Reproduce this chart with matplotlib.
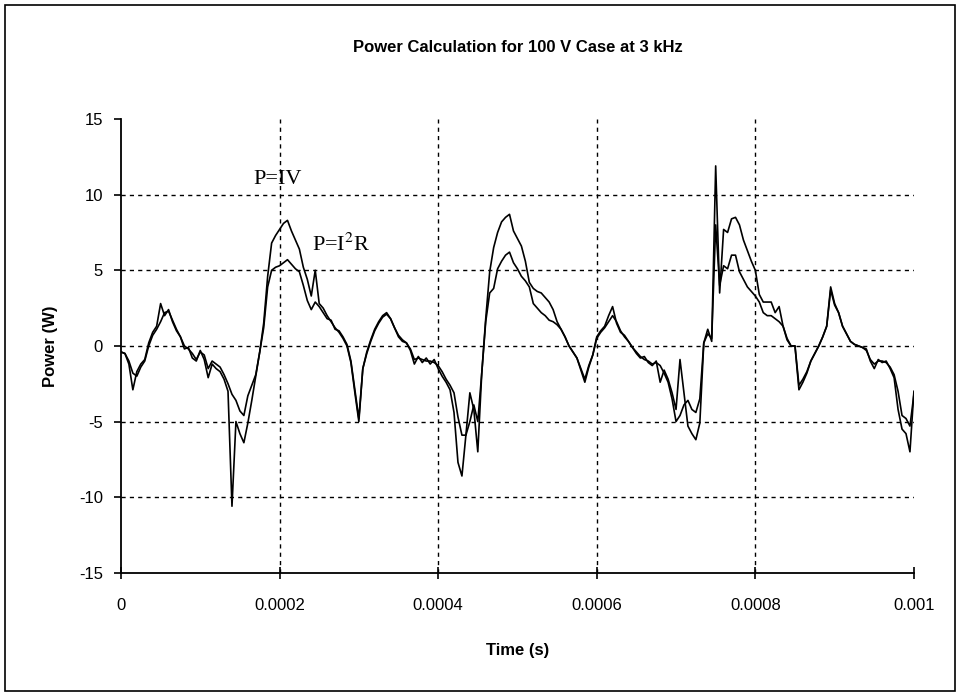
import numpy as np
import matplotlib
matplotlib.use("Agg")
import matplotlib.pyplot as plt
from matplotlib.patches import Rectangle

plt.rcParams['font.family'] = ['Liberation Sans', 'DejaVu Sans']
plt.rcParams['axes.unicode_minus'] = False
plt.rcParams['mathtext.fontset'] = 'stix'

# sample times, in units of 1e-5 s (0 .. 100, every 0.5)
t_units = np.arange(0, 100.5, 0.5)

# P = I*V  (W)
p_iv = [
    -0.4, -0.5, -1.2, -2.9, -1.7, -1.2, -0.9, 0.2, 0.9, 1.3, 2.8, 2.0,
    2.4, 1.6, 1.0, 0.6, -0.2, -0.1, -0.8, -1.0, -0.3, -0.9, -2.1, -1.2,
    -1.5, -1.7, -2.2, -3.0, -10.6, -5.0, -5.8, -6.4, -5.1, -3.6, -2.0, -0.4,
    1.5, 4.6, 6.8, 7.3, 7.7, 8.1, 8.3, 7.6, 7.0, 6.4, 5.2, 4.4,
    3.3, 5.0, 2.8, 2.5, 2.0, 1.6, 1.2, 0.9, 0.5, 0.0, -1.1, -3.1,
    -5.0, -1.5, -0.4, 0.4, 1.1, 1.6, 2.0, 2.2, 1.8, 1.2, 0.6, 0.3,
    0.2, -0.3, -1.2, -0.7, -1.1, -0.8, -1.2, -0.9, -1.5, -2.0, -2.4, -2.9,
    -4.4, -7.7, -8.6, -5.9, -3.1, -4.2, -7.0, -1.8, 1.8, 4.9, 6.5, 7.5,
    8.2, 8.5, 8.7, 7.6, 7.1, 6.6, 5.6, 4.2, 3.8, 3.6, 3.5, 3.2,
    2.9, 2.4, 1.6, 1.1, 0.6, 0.0, -0.4, -0.8, -1.6, -2.4, -1.4, -0.6,
    0.6, 1.0, 1.3, 2.0, 2.6, 1.5, 0.9, 0.7, 0.3, -0.1, -0.5, -0.8,
    -0.7, -1.1, -1.3, -1.0, -2.4, -1.6, -2.2, -3.1, -4.2, -0.9, -3.1, -5.3,
    -5.8, -6.2, -5.1, 0.2, 1.1, 0.3, 11.9, 3.5, 7.7, 7.5, 8.4, 8.5,
    8.0, 7.0, 6.3, 5.6, 5.0, 3.4, 2.9, 2.9, 2.9, 2.2, 2.6, 1.3,
    0.5, 0.0, 0.0, -2.9, -2.4, -1.8, -1.0, -0.5, 0.0, 0.6, 1.3, 3.9,
    2.8, 2.2, 1.3, 0.8, 0.3, 0.1, 0.0, -0.1, -0.2, -1.0, -1.5, -0.9,
    -1.1, -1.0, -1.5, -2.1, -4.2, -5.5, -5.8, -7.0, -3.0,
]

# P = I^2 * R  (W)
p_i2r = [
    -0.4, -0.5, -1.0, -1.8, -2.0, -1.4, -1.0, 0.0, 0.7, 1.1, 1.6, 2.2,
    2.3, 1.7, 1.1, 0.6, 0.0, -0.2, -0.5, -0.9, -0.4, -0.6, -1.5, -1.0,
    -1.2, -1.4, -1.9, -2.5, -3.2, -3.6, -4.3, -4.6, -3.3, -2.6, -1.9, -0.4,
    1.2, 3.9, 5.0, 5.2, 5.3, 5.5, 5.7, 5.4, 5.1, 4.9, 4.0, 3.0,
    2.4, 2.9, 2.6, 2.2, 1.8, 1.7, 1.1, 1.0, 0.6, 0.1, -1.0, -2.9,
    -4.8, -1.5, -0.5, 0.3, 1.0, 1.5, 1.9, 2.1, 1.8, 1.2, 0.7, 0.4,
    0.2, -0.2, -0.9, -0.8, -0.9, -1.0, -1.0, -1.1, -1.3, -1.7, -2.2, -2.6,
    -3.1, -4.7, -5.9, -5.9, -5.0, -3.9, -5.0, -1.8, 1.6, 3.5, 3.8, 5.1,
    5.6, 6.0, 6.2, 5.5, 5.1, 4.6, 4.3, 3.9, 2.8, 2.5, 2.2, 2.0,
    1.7, 1.6, 1.4, 1.1, 0.6, 0.0, -0.4, -0.8, -1.5, -2.2, -1.3, -0.6,
    0.5, 0.9, 1.2, 1.6, 2.0, 1.6, 1.0, 0.6, 0.3, -0.1, -0.4, -0.7,
    -0.9, -1.0, -1.2, -1.1, -1.3, -1.8, -2.4, -3.5, -5.0, -4.6, -3.9, -3.6,
    -4.2, -4.4, -3.5, 0.2, 0.8, 0.5, 8.0, 4.0, 5.3, 5.1, 6.0, 6.0,
    4.9, 4.4, 3.9, 3.6, 3.3, 2.9, 2.2, 2.0, 2.0, 1.8, 1.6, 1.3,
    0.4, 0.0, 0.0, -2.6, -2.2, -1.7, -1.0, -0.5, 0.0, 0.6, 1.3, 3.7,
    2.7, 2.2, 1.3, 0.8, 0.3, 0.1, 0.0, -0.1, -0.3, -0.9, -1.2, -1.0,
    -1.0, -1.1, -1.4, -1.9, -3.0, -4.6, -4.8, -5.3, -3.2,
]

x_ticks = [0, 0.0002, 0.0004, 0.0006, 0.0008, 0.001]
x_tick_labels = ['0', '0.0002', '0.0004', '0.0006', '0.0008', '0.001']
y_ticks = [-15, -10, -5, 0, 5, 10, 15]

time_s = t_units * 1e-5

fig = plt.figure(figsize=(9.6, 6.96), dpi=100)
ax = fig.add_axes([0.126, 0.177, 0.826, 0.652])

# dashed grid only on the inner ticks (Excel style)
for yv in y_ticks[1:-1]:
    ax.axhline(yv, color='black', lw=1, ls=(0, (3, 3)), zorder=1)
for xv in x_ticks[1:-1]:
    ax.axvline(xv, color='black', lw=1, ls=(0, (3, 3)), zorder=1)

ax.plot(time_s, p_i2r, color='black', lw=1.2, zorder=3)
ax.plot(time_s, p_iv, color='black', lw=1.2, zorder=3)

ax.set_xlim(0, 0.001)
ax.set_ylim(-15, 15)
ax.set_xticks(x_ticks)
ax.set_xticklabels(x_tick_labels)
ax.set_yticks(y_ticks)
ax.tick_params(axis='x', direction='inout', length=8, width=1.2, labelsize=12, pad=14)
ax.tick_params(axis='y', direction='out', length=5, width=1.2, labelsize=12, pad=8)

for side in ['top', 'right']:
    ax.spines[side].set_visible(False)
for side in ['left', 'bottom']:
    ax.spines[side].set_linewidth(1.3)

ax.set_xlabel('Time (s)', fontsize=12, fontweight='bold', labelpad=22)
ax.set_ylabel('Power (W)', fontsize=12, fontweight='bold', labelpad=15)

fig.text(0.539, 0.932, 'Power Calculation for 100 V Case at 3 kHz',
         ha='center', va='center', fontsize=12, fontweight='bold')

# curve labels
ax.text(0.000167, 11.0, 'P=IV', family='Liberation Serif', fontsize=16,
        va='center', ha='left')
ax.text(0.000241, 6.7, r'P=I$^2$R', family='Liberation Serif', fontsize=16,
        va='center', ha='left')

# outer chart border
fig.patches.append(Rectangle((0.005, 0.007), 0.99, 0.986, transform=fig.transFigure,
                             fill=False, edgecolor='black', lw=1.2))

fig.savefig('out.png', dpi=100)
